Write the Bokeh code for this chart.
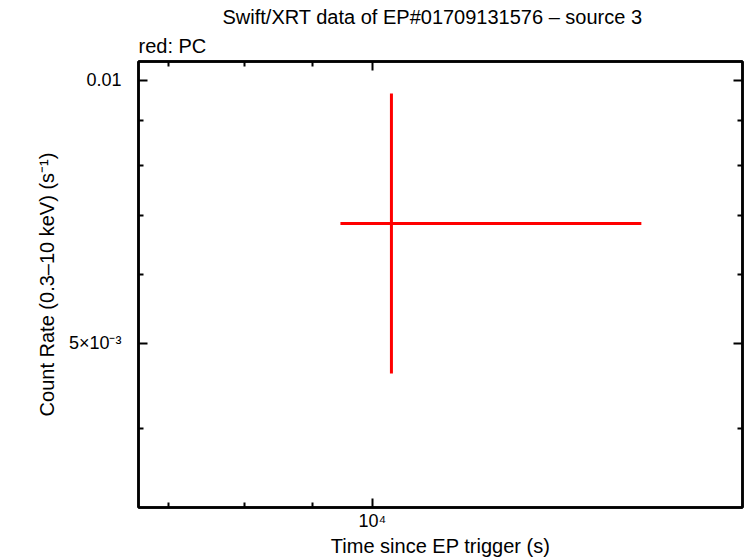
from bokeh.plotting import figure
from bokeh.models import Range1d, FixedTicker, LogAxis, Title
from bokeh.embed import file_html
from bokeh.resources import INLINE

# data
t_mid = [10338.0]
t_lo = [9456.0]
t_hi = [16004.0]
rate = [0.00686]
rate_lo = [0.00462]
rate_hi = [0.00966]

x_major = [10000]
x_minor = [7000, 8000, 9000]
y_major = [0.005, 0.01]
y_minor = [0.004, 0.006, 0.007, 0.008, 0.009]
y_labels = {0.01: "0.01", 0.005: "5×10⁻³"}
x_labels = {10000: "10⁴"}

FONT = "Liberation Sans"

p = figure(frame_width=604, frame_height=446, x_axis_type="log", y_axis_type="log",
           x_range=Range1d(6643, 19100), y_range=Range1d(0.003245, 0.010513),
           output_backend="svg", toolbar_location=None,
           min_border_left=138, min_border_right=4, min_border_top=61, min_border_bottom=40)
p.background_fill_color = "white"
p.border_fill_color = "white"
p.grid.visible = False
p.outline_line_color = "black"
p.outline_line_width = 2.5

def style(ax, labels=True):
    ax.axis_line_width = 2.5
    ax.axis_line_color = "black"
    ax.major_tick_in = 9
    ax.major_tick_out = 0
    ax.minor_tick_in = 5
    ax.minor_tick_out = 0
    ax.major_tick_line_width = 2
    ax.minor_tick_line_width = 2
    ax.major_label_text_font = FONT
    ax.major_label_text_font_size = "18px"
    ax.major_label_text_color = "black"
    ax.axis_label_text_font = FONT
    ax.axis_label_text_font_size = "20px"
    ax.axis_label_text_font_style = "normal"
    ax.axis_label_text_color = "black"
    if not labels:
        ax.major_label_text_font_size = "0px"
        ax.major_label_text_alpha = 0
        ax.major_label_standoff = 0

p.xaxis.ticker = FixedTicker(ticks=x_major, minor_ticks=x_minor)
p.yaxis.ticker = FixedTicker(ticks=y_major, minor_ticks=y_minor)
p.xaxis.major_label_overrides = x_labels
p.yaxis.major_label_overrides = y_labels
p.xaxis.axis_label = "Time since EP trigger (s)"
p.yaxis.axis_label = "Count Rate (0.3–10 keV) (s⁻¹)"
style(p.xaxis[0])
style(p.yaxis[0])
p.xaxis.major_label_standoff = 3
p.xaxis.axis_label_standoff = 1
p.yaxis.major_label_standoff = 17
p.yaxis.axis_label_standoff = 8

top = LogAxis(ticker=FixedTicker(ticks=x_major, minor_ticks=x_minor))
right = LogAxis(ticker=FixedTicker(ticks=y_major, minor_ticks=y_minor))
style(top, False)
style(right, False)
p.add_layout(top, "above")
p.add_layout(right, "right")

p.segment(x0=t_lo, x1=t_hi, y0=rate, y1=rate, line_color="#ff0000", line_width=3)
p.segment(x0=t_mid, x1=t_mid, y0=rate_lo, y1=rate_hi, line_color="#ff0000", line_width=3)

sub = Title(text="red: PC", align="left", text_font=FONT, text_font_size="20px",
            text_font_style="normal", text_color="black", standoff=10)
p.add_layout(sub, "above")

p.title.text = "Swift/XRT data of EP#01709131576 – source 3"
p.title.align = "left"
p.title.offset = 84
p.title.text_font = FONT
p.title.text_font_size = "20px"
p.title.text_font_style = "normal"
p.title.text_color = "black"
p.title.standoff = 0

open("out.html", "w").write(file_html(p, INLINE))
